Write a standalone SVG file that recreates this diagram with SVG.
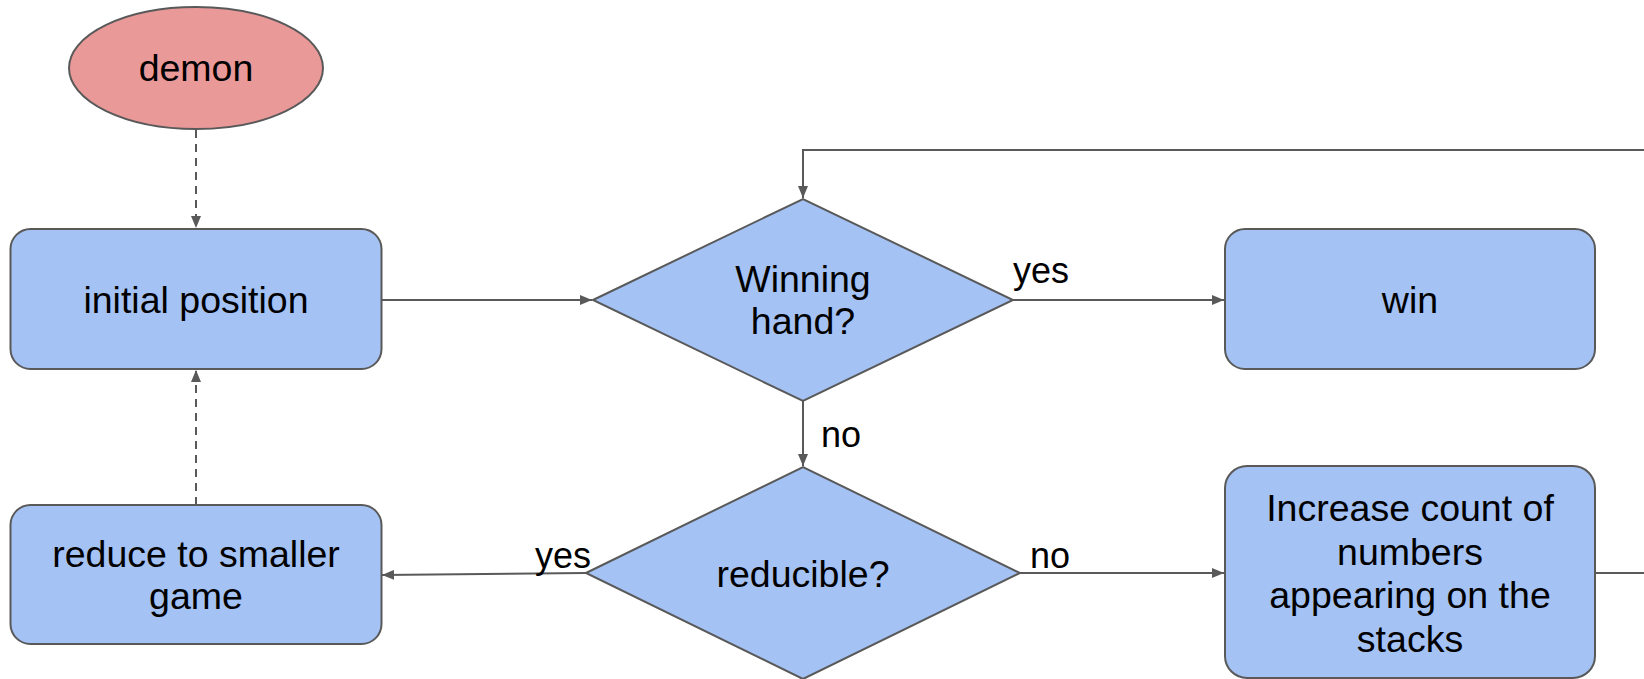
<svg xmlns="http://www.w3.org/2000/svg" width="1644" height="679" viewBox="0 0 1644 679">
<style>
.box{fill:#a4c2f4;stroke:#595959;stroke-width:2}
.term{fill:#ea9999;stroke:#595959;stroke-width:2}
.t{font-family:"Liberation Sans",Arial,sans-serif;font-size:37.5px;fill:#000;text-anchor:middle}
.l{font-family:"Liberation Sans",Arial,sans-serif;font-size:36px;fill:#000}
.c{fill:none;stroke:#595959;stroke-width:2}
.d{stroke-dasharray:8,6}
</style>
<defs>
<marker id="ah" viewBox="0 0 12 10" refX="12" refY="5" markerWidth="12" markerHeight="10" markerUnits="userSpaceOnUse" orient="auto">
<path d="M0,0 L12,5 L0,10 Z" fill="#595959"/>
</marker>
</defs>
<rect width="1644" height="679" fill="#fff"/>
<g id="connectors">
<path class="c d" d="M196,130 V228" marker-end="url(#ah)"/>
<path class="c d" d="M196,505 V370" marker-end="url(#ah)"/>
<path class="c" d="M381,300 H592" marker-end="url(#ah)"/>
<path class="c" d="M1013,300 H1224" marker-end="url(#ah)"/>
<path class="c" d="M803,401 V466" marker-end="url(#ah)"/>
<path class="c" d="M586,573 L382,575" marker-end="url(#ah)"/>
<path class="c" d="M1020,573 H1224" marker-end="url(#ah)"/>
<path class="c" d="M1595,573 H1660"/>
<path class="c" d="M1660,150 H803 V198" marker-end="url(#ah)"/>
</g>
<g id="demon">
<ellipse class="term" cx="196" cy="68" rx="127" ry="61"/>
<text class="t" x="196" y="81">demon</text>
</g>
<g id="initial">
<rect class="box" x="10.5" y="229" width="371" height="140" rx="20"/>
<text class="t" x="196" y="313">initial position</text>
</g>
<g id="winning">
<polygon class="box" points="593,300 803,199 1013,300 803,401"/>
<text class="t" x="803" y="292">Winning</text>
<text class="t" x="803" y="334">hand?</text>
</g>
<g id="win">
<rect class="box" x="1225" y="229" width="370" height="140" rx="20"/>
<text class="t" x="1410" y="313">win</text>
</g>
<g id="reducible">
<polygon class="box" points="586,573 803,467 1020,573 803,679"/>
<text class="t" x="803" y="587">reducible?</text>
</g>
<g id="reduce">
<rect class="box" x="10.5" y="505" width="371" height="139" rx="20"/>
<text class="t" x="196" y="567">reduce to smaller</text>
<text class="t" x="196" y="609">game</text>
</g>
<g id="increase">
<rect class="box" x="1225" y="466" width="370" height="212" rx="22"/>
<text class="t" x="1410" y="521">Increase count of</text>
<text class="t" x="1410" y="565">numbers</text>
<text class="t" x="1410" y="608">appearing on the</text>
<text class="t" x="1410" y="652">stacks</text>
</g>
<g id="labels">
<text class="l" x="1013" y="283">yes</text>
<text class="l" x="821" y="447">no</text>
<text class="l" x="535" y="568">yes</text>
<text class="l" x="1030" y="568">no</text>
</g>
</svg>
